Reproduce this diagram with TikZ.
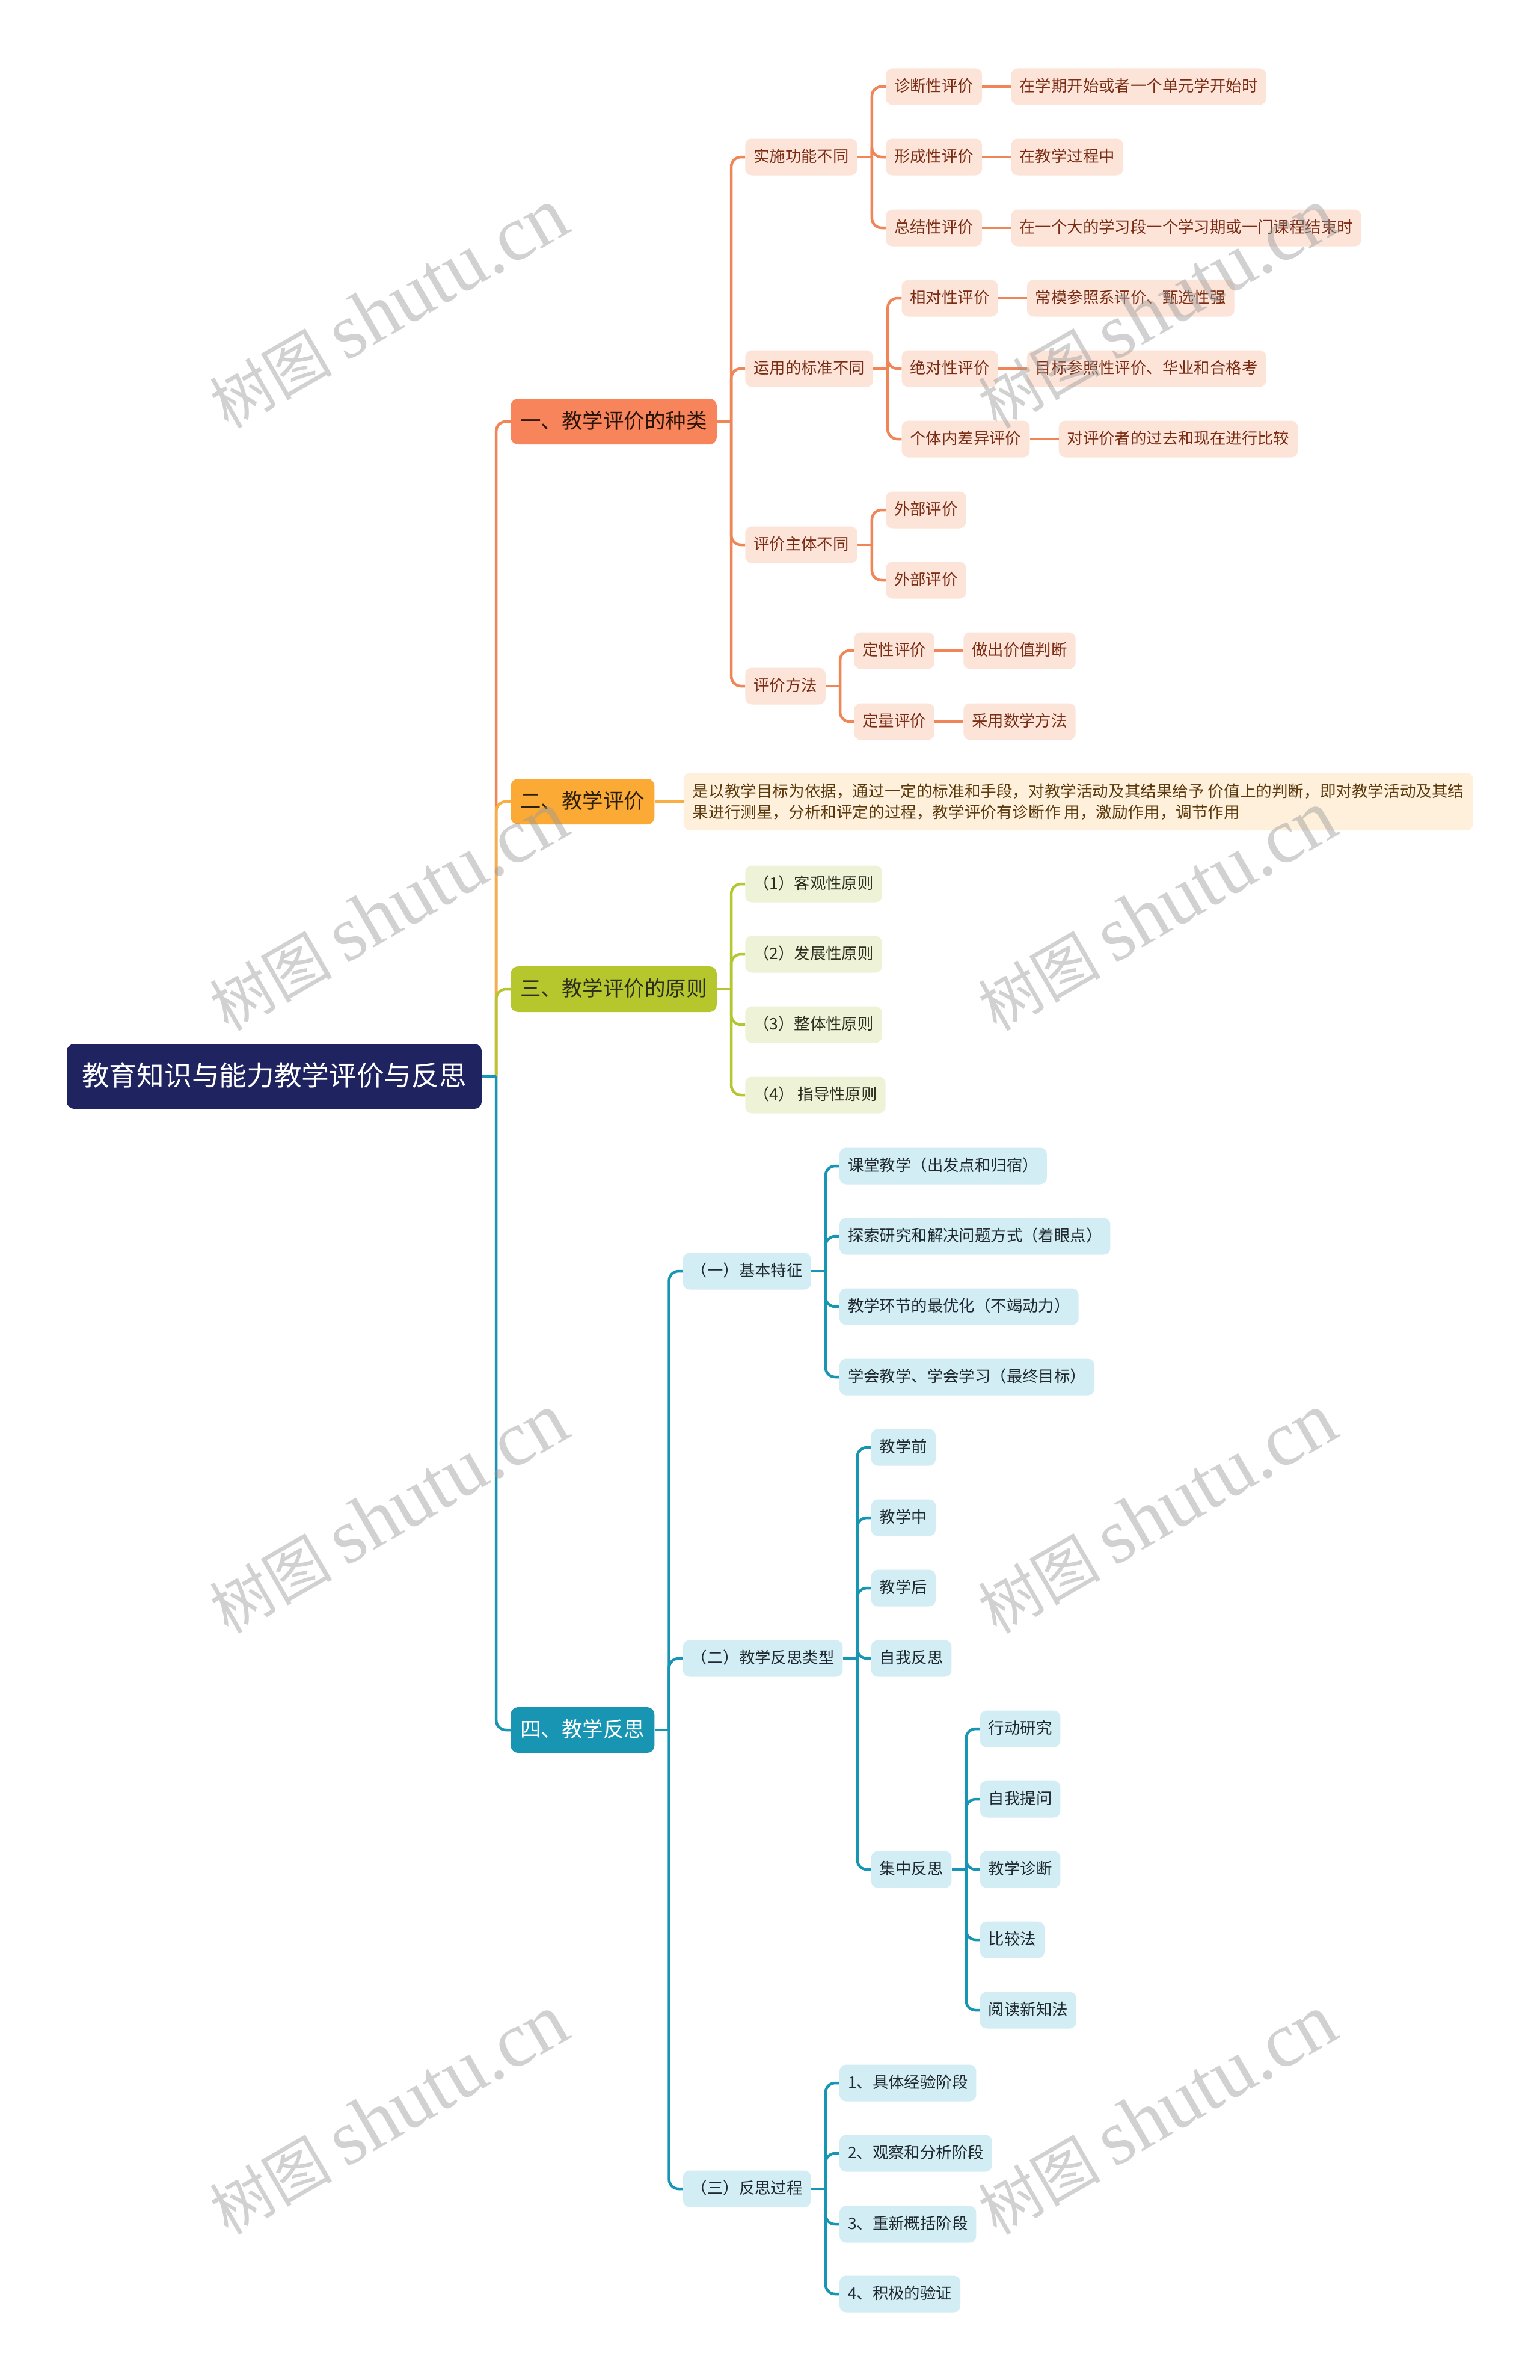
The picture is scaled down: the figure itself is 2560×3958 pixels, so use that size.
\documentclass[tikz,border=0pt]{standalone}
\usepackage{fontspec}
\setmainfont{Noto Sans CJK SC}
\newfontfamily\wmlatin{Liberation Serif}
\usetikzlibrary{positioning, calc}

\definecolor{rootblue}{HTML}{1F2461}
\definecolor{orangeA}{HTML}{F7845A}
\definecolor{orangeL}{HTML}{F08558}
\definecolor{orangeP}{HTML}{FDE4D9}
\definecolor{orangeT}{HTML}{7A2C14}
\definecolor{orangeD}{HTML}{2B1408}
\definecolor{yellowA}{HTML}{FBAA36}
\definecolor{yellowL}{HTML}{F8AE40}
\definecolor{yellowP}{HTML}{FEF0DA}
\definecolor{yellowT}{HTML}{5C3A0E}
\definecolor{yellowD}{HTML}{2E2008}
\definecolor{greenA}{HTML}{B5C72D}
\definecolor{greenL}{HTML}{B6C630}
\definecolor{greenP}{HTML}{EEF3D8}
\definecolor{greenT}{HTML}{2E2E1E}
\definecolor{tealA}{HTML}{1795B3}
\definecolor{tealL}{HTML}{1895B2}
\definecolor{tealP}{HTML}{D3EDF4}
\definecolor{tealT}{HTML}{1E2A30}

\tikzset{
  rootbox/.style={fill=rootblue, text=white, rounded corners=12pt, inner xsep=25pt, inner ysep=0pt,
    minimum height=108pt, text height=38pt, text depth=7.7pt, font=\fontsize{45.7pt}{50pt}\selectfont},
  topicbox/.style={rounded corners=12pt, inner xsep=16pt, inner ysep=0pt, minimum height=76pt,
    text height=28.8pt, text depth=5.9pt, font=\fontsize{34.5pt}{40pt}\selectfont},
  leafbox/.style={rounded corners=11pt, inner xsep=14pt, inner ysep=0pt, minimum height=61pt,
    text height=22.1pt, text depth=4.5pt, font=\fontsize{26.4pt}{32pt}\selectfont},
  oleaf/.style={leafbox, fill=orangeP, text=orangeT},
  gleaf/.style={leafbox, fill=greenP, text=greenT},
  tleaf/.style={leafbox, fill=tealP, text=tealT},
  descbox/.style={rounded corners=11pt, inner xsep=15pt, inner ysep=0pt, minimum height=96pt,
    align=left, fill=yellowP, text=yellowT, font=\fontsize{26.6pt}{35pt}\selectfont},
  link/.style={line width=4.5pt},
  wmark/.style={rotate=30, text=black!40, opacity=0.45, font=\fontsize{102pt}{110pt}\selectfont}
}

\begin{document}
\begin{tikzpicture}[x=1pt, y=-1pt]
    \useasboundingbox (0,0) rectangle (2560,3958);
    \fill[white] (0,0) rectangle (2560,3958);

    % 中心主题
    \node[rootbox, anchor=west] (root) at (111,1790) {教育知识与能力教学评价与反思};

    % 一级分支
    \node[topicbox, fill=orangeA, text=orangeD, right=48pt of root, yshift=1089pt] (yi) {一、教学评价的种类};
    \node[topicbox, fill=yellowA, text=yellowD, right=48pt of root, yshift=457pt] (er) {二、教学评价};
    \node[topicbox, fill=greenA, text=greenT, right=48pt of root, yshift=145pt] (san) {三、教学评价的原则};
    \node[topicbox, fill=tealA, text=white, right=48pt of root, yshift=-1087pt] (si) {四、教学反思};

    % 一、教学评价的种类
    \node[oleaf, right=47pt of yi, yshift=440pt] (shishi) {实施功能不同};
    \node[oleaf, right=47pt of yi, yshift=88pt] (yunyong) {运用的标准不同};
    \node[oleaf, right=47pt of yi, yshift=-205pt] (zhuti) {评价主体不同};
    \node[oleaf, right=47pt of yi, yshift=-440pt] (fangfa) {评价方法};

    \node[oleaf, right=47pt of shishi, yshift=117pt] (zhenduan) {诊断性评价};
    \node[oleaf, right=47pt of shishi] (xingcheng) {形成性评价};
    \node[oleaf, right=47pt of shishi, yshift=-118pt] (zongjie) {总结性评价};
    \node[oleaf, right=48pt of zhenduan] (zhenduan-t) {在学期开始或者一个单元学开始时};
    \node[oleaf, right=48pt of xingcheng] (xingcheng-t) {在教学过程中};
    \node[oleaf, right=48pt of zongjie] (zongjie-t) {在一个大的学习段一个学习期或一门课程结束时};

    \node[oleaf, right=47pt of yunyong, yshift=117pt] (xiangdui) {相对性评价};
    \node[oleaf, right=47pt of yunyong] (juedui) {绝对性评价};
    \node[oleaf, right=47pt of yunyong, yshift=-117pt] (geti) {个体内差异评价};
    \node[oleaf, right=48pt of xiangdui] (xiangdui-t) {常模参照系评价、甄选性强};
    \node[oleaf, right=48pt of juedui] (juedui-t) {目标参照性评价、华业和合格考};
    \node[oleaf, right=48pt of geti] (geti-t) {对评价者的过去和现在进行比较};

    \node[oleaf, right=47pt of zhuti, yshift=58pt] (waibu-a) {外部评价};
    \node[oleaf, right=47pt of zhuti, yshift=-59pt] (waibu-b) {外部评价};

    \node[oleaf, right=47pt of fangfa, yshift=59pt] (dingxing) {定性评价};
    \node[oleaf, right=47pt of fangfa, yshift=-59pt] (dingliang) {定量评价};
    \node[oleaf, right=48pt of dingxing] (dingxing-t) {做出价值判断};
    \node[oleaf, right=48pt of dingliang] (dingliang-t) {采用数学方法};

    % 二、教学评价
    \node[descbox, right=48pt of er] (er-t) {是以教学目标为依据，通过一定的标准和手段，对教学活动及其结果给予 价值上的判断，即对教学活动及其结\\果进行测星，分析和评定的过程，教学评价有诊断作 用，激励作用，调节作用};

    % 三、教学评价的原则
    \node[gleaf, right=47pt of san, yshift=175pt] (yz-a) {（1）客观性原则};
    \node[gleaf, right=47pt of san, yshift=58pt] (yz-b) {（2）发展性原则};
    \node[gleaf, right=47pt of san, yshift=-59pt] (yz-c) {（3）整体性原则};
    \node[gleaf, right=47pt of san, yshift=-176pt] (yz-d) {（4） 指导性原则};

    % 四、教学反思
    \node[tleaf, right=47pt of si, yshift=763pt] (tezheng) {（一）基本特征};
    \node[tleaf, right=47pt of si, yshift=119pt] (leixing) {（二）教学反思类型};
    \node[tleaf, right=47pt of si, yshift=-763pt] (guocheng) {（三）反思过程};

    \node[tleaf, right=47pt of tezheng, yshift=175pt] (tz-a) {课堂教学（出发点和归宿）};
    \node[tleaf, right=47pt of tezheng, yshift=58pt] (tz-b) {探索研究和解决问题方式（着眼点）};
    \node[tleaf, right=47pt of tezheng, yshift=-59pt] (tz-c) {教学环节的最优化（不竭动力）};
    \node[tleaf, right=47pt of tezheng, yshift=-176pt] (tz-d) {学会教学、学会学习（最终目标）};

    \node[tleaf, right=47pt of leixing, yshift=351pt] (lx-a) {教学前};
    \node[tleaf, right=47pt of leixing, yshift=234pt] (lx-b) {教学中};
    \node[tleaf, right=47pt of leixing, yshift=117pt] (lx-c) {教学后};
    \node[tleaf, right=47pt of leixing] (lx-d) {自我反思};
    \node[tleaf, right=47pt of leixing, yshift=-351pt] (jizhong) {集中反思};

    \node[tleaf, right=47pt of jizhong, yshift=234pt] (jz-a) {行动研究};
    \node[tleaf, right=47pt of jizhong, yshift=117pt] (jz-b) {自我提问};
    \node[tleaf, right=47pt of jizhong] (jz-c) {教学诊断};
    \node[tleaf, right=47pt of jizhong, yshift=-117pt] (jz-d) {比较法};
    \node[tleaf, right=47pt of jizhong, yshift=-234pt] (jz-e) {阅读新知法};

    \node[tleaf, right=47pt of guocheng, yshift=176pt] (gc-a) {1、具体经验阶段};
    \node[tleaf, right=47pt of guocheng, yshift=59pt] (gc-b) {2、观察和分析阶段};
    \node[tleaf, right=47pt of guocheng, yshift=-59pt] (gc-c) {3、重新概括阶段};
    \node[tleaf, right=47pt of guocheng, yshift=-175pt] (gc-d) {4、积极的验证};

    % 主干连线
    \coordinate (root-bus) at ($(root.east)+(24,0)$);
    \foreach \k/\col in {yi/orangeL, er/yellowL, san/greenL, si/tealL} {
        \draw[link, \col] (root.east) -- (root-bus);
        \draw[link, \col, rounded corners=16pt] (root-bus) |- (\k.west);
    }

    % 分支连线
    \foreach \p/\kids/\col in {
        yi/{shishi,yunyong,zhuti,fangfa}/orangeL,
        shishi/{zhenduan,xingcheng,zongjie}/orangeL,
        yunyong/{xiangdui,juedui,geti}/orangeL,
        zhuti/{waibu-a,waibu-b}/orangeL,
        fangfa/{dingxing,dingliang}/orangeL,
        san/{yz-a,yz-b,yz-c,yz-d}/greenL,
        si/{tezheng,leixing,guocheng}/tealL,
        tezheng/{tz-a,tz-b,tz-c,tz-d}/tealL,
        leixing/{lx-a,lx-b,lx-c,lx-d,jizhong}/tealL,
        jizhong/{jz-a,jz-b,jz-c,jz-d,jz-e}/tealL,
        guocheng/{gc-a,gc-b,gc-c,gc-d}/tealL} {
        \coordinate (\p-bus) at ($(\p.east)+(24,0)$);
        \draw[link, \col] (\p.east) -- (\p-bus);
        \foreach \k in \kids
            \draw[link, \col, rounded corners=16pt] (\p-bus) |- (\k.west);
    }

    % 说明连线
    \foreach \a in {zhenduan, xingcheng, zongjie, xiangdui, juedui, geti, dingxing, dingliang}
        \draw[link, orangeL] (\a) -- (\a-t);
    \draw[link, yellowL] (er) -- (er-t);

    % 水印
    \foreach \wx in {646, 1924}
        \foreach \wy in {513, 1515, 2517, 3517}
            \node[wmark] at (\wx,\wy) {树图 {\wmlatin\fontsize{130pt}{130pt}\selectfont shutu.cn}};
\end{tikzpicture}
\end{document}
